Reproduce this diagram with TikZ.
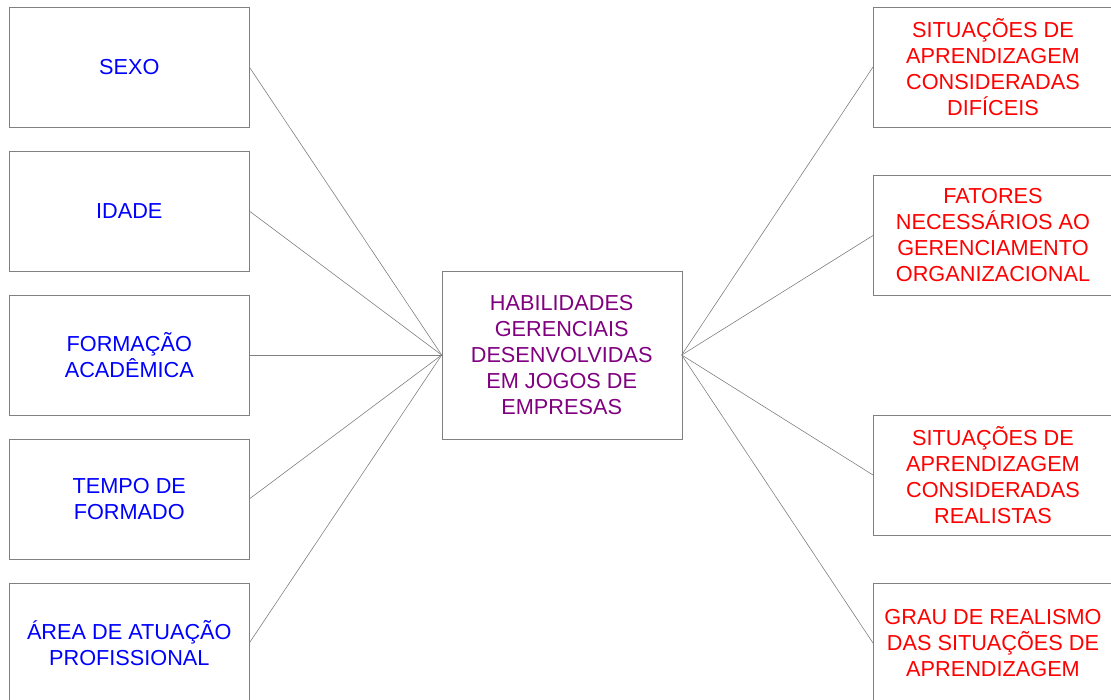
\documentclass[tikz,border=0pt]{standalone}
\usepackage{fontspec}
\setmainfont{Liberation Sans}
\definecolor{hpurple}{RGB}{128,0,128}
\tikzset{block/.style = {draw=gray, fill=white, rectangle, inner sep=0pt, outer sep=0pt, align=center, minimum height=120pt, minimum width=240pt, font=\fontsize{21.7}{26}\selectfont},
         left/.style = {block, text=blue},
         right/.style = {block, text=red},
         link/.style = {draw=gray, line width=0.6pt}}
\begin{document}
\begin{tikzpicture}[x=1pt,y=-1pt]
        \path[use as bounding box, clip](0,0)rectangle(1111,699);
        \node[block, text=hpurple, minimum height=168pt](hab)at(561.7,355){HABILIDADES\\GERENCIAIS\\DESENVOLVIDAS\\EM JOGOS DE\\EMPRESAS};
        \node[left](sexo)at(129.3,67){SEXO};
        \node[left](idade)at(129.3,211){IDADE};
        \node[left](form)at(129.3,355){FORMAÇÃO\\ACADÊMICA};
        \node[left](tempo)at(129.3,499){TEMPO DE\\FORMADO};
        \node[left](area)at(129.3,643){ÁREA DE ATUAÇÃO\\PROFISSIONAL};
        \node[right](dif)at(993,67){SITUAÇÕES DE\\APRENDIZAGEM\\CONSIDERADAS\\DIFÍCEIS};
        \node[right](fat)at(993,235.5){FATORES\\NECESSÁRIOS AO\\GERENCIAMENTO\\ORGANIZACIONAL};
        \node[right](real)at(993,475){SITUAÇÕES DE\\APRENDIZAGEM\\CONSIDERADAS\\REALISTAS};
        \node[right](grau)at(993,643){GRAU DE REALISMO\\DAS SITUAÇÕES DE\\APRENDIZAGEM};
        \foreach \n in {sexo,idade,form,tempo,area}
            \draw[link](\n.east)--(hab.west);
        \foreach \n in {dif,fat,real,grau}
            \draw[link](hab.east)--(\n.west);
    \end{tikzpicture}
\end{document}
